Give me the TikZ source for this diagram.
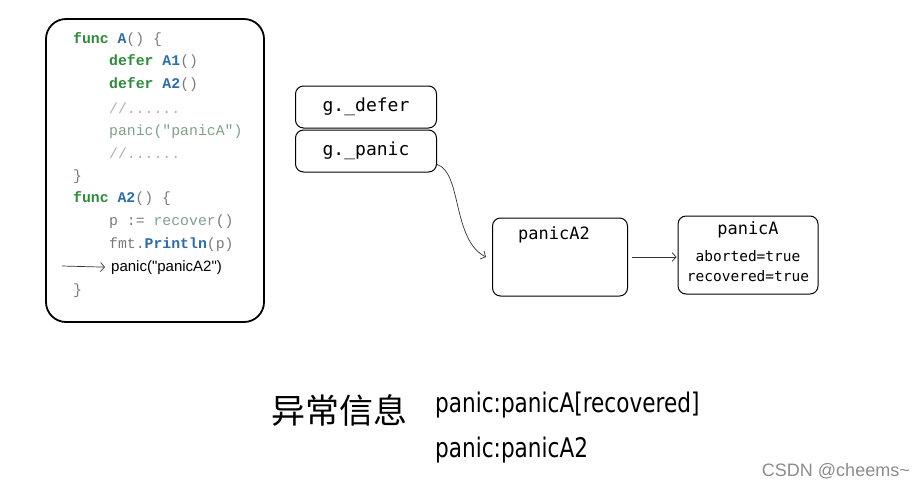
\documentclass[tikz,border=0pt]{standalone}
\usepackage{fontspec}
\setmainfont{DejaVu Sans}
\newfontfamily\codefont{Liberation Mono}
\newfontfamily\handfont{DejaVu Sans Mono}
\newfontfamily\msgfont[FakeStretch=0.8]{DejaVu Sans}
\newfontfamily\cjk{Noto Sans CJK SC}
\newfontfamily\markfont{Liberation Sans}
\usetikzlibrary{arrows,arrows.meta,positioning,calc}

\definecolor{kwgreen}{HTML}{2E8B3A}
\definecolor{fnblue}{HTML}{2B6CB0}
\definecolor{codegray}{HTML}{7A7A7A}
\definecolor{callgreen}{HTML}{7FA08A}

\tikzset{
  box/.style={draw, rounded corners=8pt, line width=1pt, inner sep=0pt},
  code/.style={font=\codefont\fontsize{14.8}{16}\selectfont, text=codegray, inner sep=0pt, anchor=base west},
  hand/.style={font=\handfont\fontsize{17}{19}\selectfont, inner sep=0pt},
  arr/.style={-{Straight Barb[length=4pt,width=9pt,line width=.7pt]}, line width=.7pt, draw=black!80},
}
\newcommand{\kw}[1]{\textcolor{kwgreen}{\textbf{#1}}}
\newcommand{\fn}[1]{\textcolor{fnblue}{\textbf{#1}}}

\begin{document}
\begin{tikzpicture}[x=1pt,y=-1pt]
        \useasboundingbox (0,0) rectangle (923,491);

        % code of A and A2
        \draw[line width=1.8pt, rounded corners=20pt] (46,19) rectangle (264,322);
        \node[code] (l1) at (73,43) {\kw{func} \fn{A}() \{};
        \node[code] (l2) at (109,65) {\kw{defer} \fn{A1}()};
        \node[code] (l3) at (109,88) {\kw{defer} \fn{A2}()};
        \node[code, text=codegray!60] (l4) at (109,113) {//......};
        \node[code, text=callgreen] (l5) at (109,135) {panic("panicA")};
        \node[code, text=codegray!60] (l6) at (109,158) {//......};
        \node[code] (l7) at (73,180) {\}};
        \node[code] (l8) at (73,202) {\kw{func} \fn{A2}() \{};
        \node[code] (l9) at (109,225) {p := \textcolor{callgreen}{recover}()};
        \node[code] (l10) at (109,248) {fmt.\fn{Println}(p)};
        \node[code, font=\markfont\fontsize{15}{17}\selectfont, text=black] (l11) at (111,271) {panic("panicA2")};
        \node[code] (l12) at (73,294) {\}};
        \coordinate (cur) at (62,266);
        \draw[arr] (cur) -- ([xshift=-6pt]l11.west);

        % g
        \node[box, minimum width=141pt, minimum height=42pt] (gdefer) at (366,107) {};
        \node[hand, font=\handfont\fontsize{18}{20}\selectfont] at (gdefer) {g.\_defer};
        \node[box, minimum width=141pt, minimum height=42pt] (gpanic) at (366,151) {};
        \node[hand, font=\handfont\fontsize{18}{20}\selectfont] at (gpanic) {g.\_panic};

        % panics
        \node[box, minimum width=135pt, minimum height=78pt] (pA2) at (560,257) {};
        \node[hand, below=9pt of pA2.north, xshift=-6pt] (pA2t) {panicA2};
        \node[box, minimum width=140pt, minimum height=78pt] (pA) at (748,255) {};
        \node[hand, below=6pt of pA.north] (pAt) {panicA};
        \node[hand, font=\handfont\fontsize{14.5}{20}\selectfont, align=center, below=12pt of pAt] (pAf) {aborted=true\\recovered=true};

        \draw[arr] ([yshift=8pt]gpanic.south east) .. controls (462,172) and (452,240) .. ([xshift=-6pt]pA2.west);
        \draw[arr] ([xshift=4pt]pA2.east) -- ([xshift=-1pt]pA.west |- pA2.east);

        % message
        \node[font=\cjk\fontsize{34}{36}\selectfont] (title) at (339,410) {异常信息};
        \node[anchor=west, inner sep=0pt, font=\msgfont\fontsize{27}{30}\selectfont] (msg1) at (435,405) {panic:panicA[recovered]};
        \node[anchor=west, inner sep=0pt, font=\msgfont\fontsize{27}{30}\selectfont] (msg2) at (435,450) {panic:panicA2};

        \node[anchor=east, inner sep=0pt, text=black!45, font=\markfont\fontsize{18}{20}\selectfont] (mark) at (910,471) {CSDN @cheems\textasciitilde};

      \end{tikzpicture}
\end{document}
